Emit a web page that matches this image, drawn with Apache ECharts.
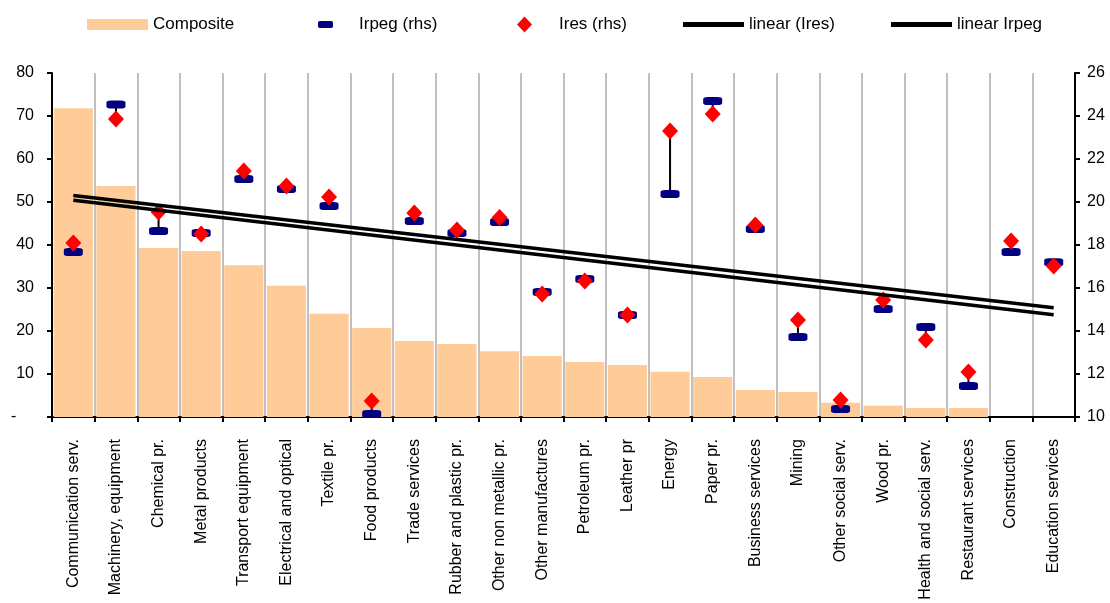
<!DOCTYPE html>
<html>
<head>
<meta charset="utf-8">
<script src="https://cdn.jsdelivr.net/npm/echarts@6/dist/echarts.min.js"></script>
<style>
html,body{margin:0;padding:0;background:#fff;}
#chart{width:1110px;height:603px;}
</style>
</head>
<body>
<div id="chart"></div>
<script>
const categories = ["Communication serv.", "Machinery, equipment", "Chemical pr.", "Metal products", "Transport equipment", "Electrical and optical", "Textile pr.", "Food products", "Trade services", "Rubber and plastic pr.", "Other non metallic pr.", "Other manufactures", "Petroleum pr.", "Leather pr", "Energy", "Paper pr.", "Business services", "Mining", "Other social serv.", "Wood pr.", "Health and social serv.", "Restaurant services", "Construction", "Education services"];
const composite = [71.8, 53.7, 39.3, 38.6, 35.3, 30.5, 24.0, 20.7, 17.7, 17.0, 15.3, 14.2, 12.8, 12.1, 10.5, 9.3, 6.3, 5.8, 3.3, 2.6, 2.1, 2.1, null, null];
const ires = [18.09, 23.86, 19.53, 18.51, 21.44, 20.74, 20.23, 10.74, 19.49, 18.70, 19.28, 15.72, 16.33, 14.74, 23.30, 24.09, 18.93, 14.51, 10.79, 15.44, 13.58, 12.09, 18.19, 17.02];
const irpeg = [17.67, 24.53, 18.65, 18.56, 21.07, 20.60, 19.81, 10.14, 19.12, 18.56, 19.07, 15.81, 16.42, 14.74, 20.37, 24.70, 18.74, 13.72, 10.37, 15.02, 14.19, 11.44, 17.67, 17.20];
const trendIres = [20.30, 15.08];   // values at first and last category
const trendIrpeg = [20.08, 14.76];
const leftTicks = {min: 0, max: 80, interval: 10};
const rightTicks = {min: 10, max: 26, interval: 2};

const FONT = 'Liberation Sans, Arial, sans-serif';
const last = categories.length - 1;

const chart = echarts.init(document.getElementById('chart'), null, {renderer: 'canvas'});

function legendItem(name, left, opts) {
  return Object.assign({
    data: [name],
    left: left,
    top: 16,
    padding: 0,
    selectedMode: false,
    textStyle: {fontFamily: FONT, fontSize: 17, color: '#000'}
  }, opts);
}

const option = {
  animation: false,
  backgroundColor: '#fff',
  legend: [
    legendItem('Composite', 87, {icon: 'rect', itemWidth: 61, itemHeight: 11}),
    legendItem('Irpeg (rhs)', 318, {icon: 'roundRect', itemWidth: 15, itemHeight: 7,
      textStyle: {fontFamily: FONT, fontSize: 17, color: '#000', padding: [0, 0, 0, 21]}}),
    legendItem('Ires (rhs)', 517, {icon: 'diamond', itemWidth: 15, itemHeight: 16,
      textStyle: {fontFamily: FONT, fontSize: 17, color: '#000', padding: [0, 0, 0, 22]}}),
    legendItem('linear (Ires)', 683, {icon: 'rect', itemWidth: 61, itemHeight: 5}),
    legendItem('linear Irpeg', 891, {icon: 'rect', itemWidth: 61, itemHeight: 5})
  ],
  grid: {left: 52, right: 35, top: 73, bottom: 186, containLabel: false},
  xAxis: {
    type: 'category',
    data: categories,
    boundaryGap: true,
    axisLine: {show: true, lineStyle: {color: '#000', width: 2}},
    axisTick: {show: true, length: 5, lineStyle: {color: '#000', width: 2}},
    splitLine: {show: true, lineStyle: {color: '#c0c0c0', width: 2}},
    axisLabel: {rotate: 90, interval: 0, margin: 22, fontFamily: FONT, fontSize: 16, color: '#000'}
  },
  yAxis: [
    {
      type: 'value',
      min: leftTicks.min, max: leftTicks.max, interval: leftTicks.interval,
      position: 'left',
      axisLine: {show: true, lineStyle: {color: '#000', width: 2}},
      axisTick: {show: true, length: 5, lineStyle: {color: '#000', width: 2}},
      splitLine: {show: false},
      axisLabel: {margin: 18, fontFamily: FONT, fontSize: 16, color: '#000',
        formatter: v => v === 0 ? '-    ' : String(v)}
    },
    {
      type: 'value',
      min: rightTicks.min, max: rightTicks.max, interval: rightTicks.interval,
      position: 'right',
      axisLine: {show: true, lineStyle: {color: '#000', width: 2}},
      axisTick: {show: true, length: 5, inside: false, lineStyle: {color: '#000', width: 2}},
      splitLine: {show: false},
      axisLabel: {margin: 12, fontFamily: FONT, fontSize: 16, color: '#000'}
    }
  ],
  series: [
    {
      name: 'Composite',
      type: 'bar',
      yAxisIndex: 0,
      data: composite,
      barCategoryGap: '8%',
      itemStyle: {color: '#ffcc99'},
      z: 1
    },
    {
      name: 'hilo',
      type: 'custom',
      yAxisIndex: 1,
      data: categories.map((c, i) => [i, ires[i], irpeg[i]]),
      encode: {x: 0, y: [1, 2]},
      renderItem: function (params, api) {
        const i = api.value(0);
        const a = api.coord([i, api.value(1)]);
        const b = api.coord([i, api.value(2)]);
        return {type: 'line', shape: {x1: a[0], y1: a[1], x2: b[0], y2: b[1]},
          style: {stroke: '#000', lineWidth: 2}};
      },
      z: 2,
      silent: true
    },
    {
      name: 'Irpeg (rhs)',
      type: 'scatter',
      yAxisIndex: 1,
      data: irpeg,
      symbol: 'roundRect',
      symbolSize: [19, 8],
      itemStyle: {color: '#000080', opacity: 1},
      z: 3
    },
    {
      name: 'Ires (rhs)',
      type: 'scatter',
      yAxisIndex: 1,
      data: ires,
      symbol: 'diamond',
      symbolSize: [16, 17],
      itemStyle: {color: '#ff0000', opacity: 1},
      z: 4
    },
    {
      name: 'linear (Ires)',
      type: 'line',
      yAxisIndex: 1,
      data: [[0, trendIres[0]], [last, trendIres[1]]],
      showSymbol: false,
      symbol: 'none',
      lineStyle: {color: '#000', width: 3.5},
      itemStyle: {color: '#000'},
      z: 5
    },
    {
      name: 'linear Irpeg',
      type: 'line',
      yAxisIndex: 1,
      data: [[0, trendIrpeg[0]], [last, trendIrpeg[1]]],
      showSymbol: false,
      symbol: 'none',
      lineStyle: {color: '#000', width: 3.5},
      itemStyle: {color: '#000'},
      z: 5
    }
  ]
};
chart.setOption(option);
</script>
</body>
</html>
